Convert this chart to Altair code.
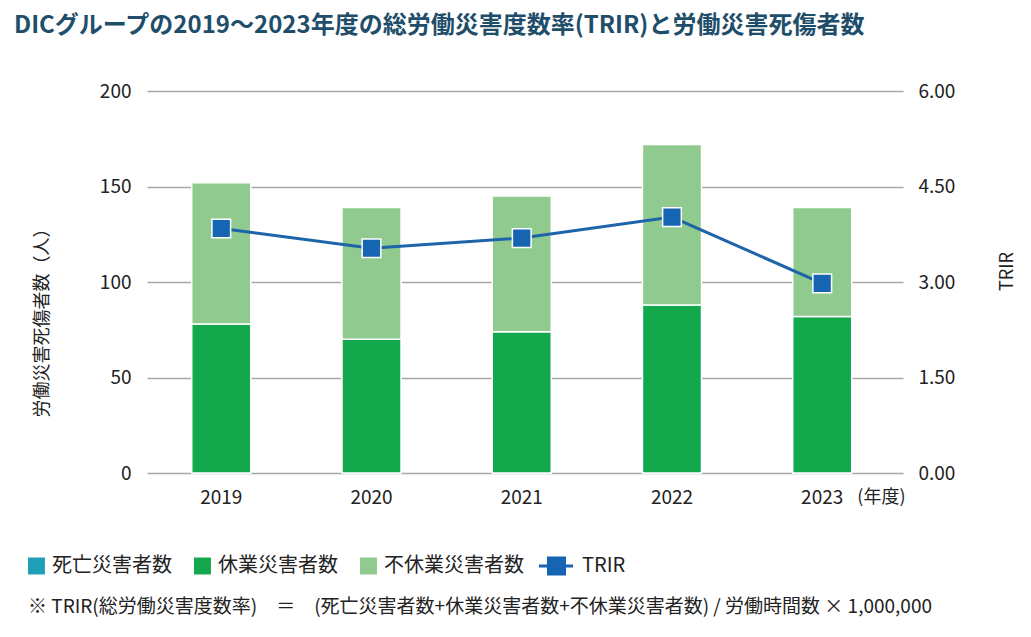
import altair as alt
import pandas as pd

years = ["2019", "2020", "2021", "2022", "2023"]
fatal = [0, 0, 0, 0, 0]
lost_time = [78, 70, 74, 88, 82]
non_lost = [74, 69, 71, 84, 57]
trir = [3.84, 3.53, 3.69, 4.02, 2.98]

series_names = ["死亡災害者数", "休業災害者数", "不休業災害者数", "TRIR"]
series_colors = ["#1f9fb8", "#14a84c", "#91ca8e", "#1565b3"]
sq = "M-0.5,-0.53H0.56V0.53H-0.5Z"
trir_sym = "M-1.69,-0.1H0.44V0.1H-1.69Z M-1.19,-0.6H0V0.6H-1.19Z"
series_shapes = [sq, sq, sq, trir_sym]

FONT = "Noto Sans CJK JP"
W, H = 756, 382

rows = []
for i, y in enumerate(years):
    rows.append({"year": y, "series": series_names[0], "ord": 0, "value": fatal[i]})
    rows.append({"year": y, "series": series_names[1], "ord": 1, "value": lost_time[i]})
    rows.append({"year": y, "series": series_names[2], "ord": 2, "value": non_lost[i]})
bars_df = pd.DataFrame(rows)
trir_df = pd.DataFrame({"year": years, "TRIR": trir})
legend_df = pd.DataFrame({"series": series_names})

xscale = alt.Scale(domain=years, paddingInner=0.607, paddingOuter=0.3195, align=0.466)
cscale = alt.Scale(domain=series_names, range=series_colors)
sscale = alt.Scale(domain=series_names, range=series_shapes)

leg = alt.Legend(
    orient="none", legendX=-127, legendY=459, direction="horizontal", title=None,
    symbolSize=1024, symbolStrokeWidth=0, symbolOpacity=1,
    labelFontSize=20, labelFont=FONT, labelColor="#222", labelOffset=0,
    columnPadding=14,
)

xaxis = alt.Axis(
    labelAngle=0, labelFontSize=19, labelPadding=15, labelColor="#222",
    domain=False, ticks=False, grid=False,
    title="(年度)", titleFontSize=18, titleFontWeight="normal", titleColor="#222",
    titleX=758, titleY=15, titleAlign="right", titleBaseline="top",
    labelFont=FONT, titleFont=FONT,
)

bars = alt.Chart(bars_df).mark_bar(stroke="white", strokeWidth=1.5).encode(
    x=alt.X("year:N", scale=xscale, axis=xaxis),
    y=alt.Y("value:Q", stack="zero",
            scale=alt.Scale(domain=[0, 200], nice=False),
            axis=alt.Axis(
                orient="left", values=[0, 50, 100, 150, 200],
                domain=False, ticks=False, grid=True, gridColor="#a8a8a8", gridWidth=1.4,
                labelFontSize=19, labelPadding=16, labelColor="#222",
                title="労働災害死傷者数（人）", titleFontSize=18, titleFontWeight="normal",
                titleColor="#222", titlePadding=48, titleY=227,
                labelFont=FONT, titleFont=FONT,
            )),
    color=alt.Color("series:N", scale=cscale, legend=leg),
    order=alt.Order("ord:Q", sort="ascending"),
)

line = alt.Chart(trir_df).mark_line(
    color="#1d64a8", strokeWidth=3,
    point=alt.OverlayMarkDef(shape="square", filled=True, size=350, fill="#1565b3",
                             stroke="white", strokeWidth=1.5, opacity=1),
).encode(
    x=alt.X("year:N", scale=xscale),
    y=alt.Y("TRIR:Q", scale=alt.Scale(domain=[0, 6], nice=False),
            axis=alt.Axis(
                orient="right", values=[0, 1.5, 3, 4.5, 6], format=".2f",
                domain=False, ticks=False, grid=False,
                labelFontSize=19, labelPadding=15, labelColor="#222",
                title="TRIR", titleFontSize=18, titleFontWeight="normal",
                titleColor="#222", titleAngle=270, titlePadding=62, titleY=180,
                labelFont=FONT, titleFont=FONT,
            )),
)

dummy = alt.Chart(legend_df).mark_point(filled=True, opacity=0).encode(
    x=alt.value(0), y=alt.value(0),
    color=alt.Color("series:N", scale=cscale, legend=leg),
    shape=alt.Shape("series:N", scale=sscale, legend=leg),
)

note_df = pd.DataFrame({"t": ["※ TRIR(総労働災害度数率)　＝　(死亡災害者数+休業災害者数+不休業災害者数) / 労働時間数 × 1,000,000"]})
note = alt.Chart(note_df).mark_text(
    align="left", baseline="middle", fontSize=19, font=FONT, color="#222"
).encode(text="t:N", x=alt.value(-119), y=alt.value(H + 134))

chart = alt.layer(
    bars, line, dummy, note
).resolve_scale(y="independent").properties(
    width=W, height=H,
    padding={"left": 6, "top": 6, "right": 4, "bottom": 5},
    title=alt.TitleParams(
        "DICグループの2019〜2023年度の総労働災害度数率(TRIR)と労働災害死傷者数",
        anchor="start", frame="bounds", dx=-6, fontSize=24, font=FONT,
        fontWeight="bold", color="#1f4e6b", offset=44,
    ),
).configure(font=FONT).configure_view(strokeWidth=0, stroke="transparent")

chart.save("out.html", embed_options={"renderer": "svg", "actions": False})
